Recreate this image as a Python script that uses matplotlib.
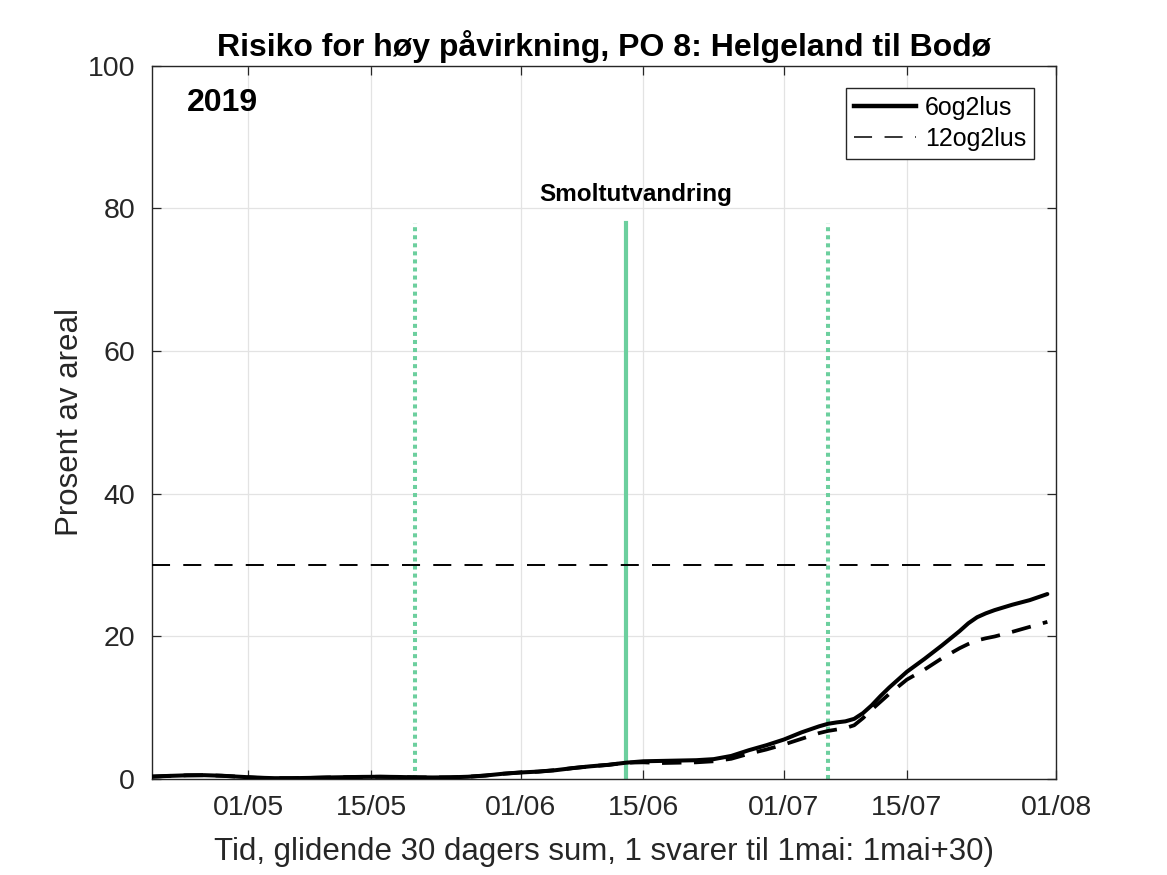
import matplotlib
matplotlib.use("Agg")
import matplotlib.pyplot as plt
from matplotlib.lines import Line2D

plt.rcParams['font.family'] = ['Liberation Sans', 'DejaVu Sans']
plt.rcParams['lines.scale_dashes'] = False

# ---- data (day of year 2019) ----
days = [110, 112, 114, 116, 118, 120, 122, 124, 126, 128, 130, 132, 134, 136, 138,
        140, 142, 144, 146, 148, 150, 152, 154, 156, 158, 160, 162, 164, 166, 168,
        170, 172, 174, 176, 178, 180, 182, 184, 186, 187, 188, 189, 190, 191, 192, 193, 194, 196, 198,
        200, 202, 203, 204, 205, 206, 208, 210, 212]
risk_6og2lus = [0.30, 0.40, 0.48, 0.50, 0.42, 0.28, 0.15, 0.08, 0.08, 0.12, 0.18, 0.22, 0.26, 0.28, 0.25,
                0.20, 0.18, 0.20, 0.28, 0.45, 0.70, 0.88, 1.00, 1.20, 1.50, 1.75, 1.95, 2.25, 2.45, 2.50,
                2.55, 2.60, 2.75, 3.20, 4.00, 4.70, 5.50, 6.50, 7.35, 7.70, 7.90, 8.05, 8.40, 9.20, 10.30, 11.60, 12.80, 15.00, 16.80,
                18.70, 20.70, 21.80, 22.65, 23.20, 23.65, 24.40, 25.05, 25.90]
risk_12og2lus = [0.30, 0.40, 0.48, 0.50, 0.42, 0.28, 0.15, 0.08, 0.08, 0.12, 0.18, 0.22, 0.26, 0.28, 0.25,
                 0.20, 0.18, 0.20, 0.28, 0.45, 0.70, 0.88, 1.00, 1.20, 1.50, 1.75, 1.95, 2.25, 2.30, 2.20,
                 2.25, 2.30, 2.45, 2.80, 3.50, 4.10, 4.80, 5.60, 6.40, 6.70, 6.90, 7.10, 7.50, 8.50, 9.70, 10.80, 11.90, 13.90, 15.30,
                 16.90, 18.30, 18.90, 19.40, 19.70, 19.95, 20.60, 21.30, 22.00]
threshold = 30
smolt_start, smolt_peak, smolt_end = 140, 164, 187
smolt_top = 78
tick_days = [121, 135, 152, 166, 182, 196, 213]
tick_labels = ['01/05', '15/05', '01/06', '15/06', '01/07', '15/07', '01/08']
yticks = [0, 20, 40, 60, 80, 100]

green = '#6CCF9E'
axcol = '#262626'

fig = plt.figure(figsize=(11.67, 8.75), dpi=100)
ax = fig.add_axes([0.13, 0.11, 0.775, 0.815])

ax.grid(True, color='#E3E3E3', linewidth=0.9, zorder=0)
ax.set_axisbelow(True)

ax.plot(days, risk_6og2lus, color='black', linewidth=2.9, solid_capstyle='round',
        solid_joinstyle='round', zorder=3)
ax.plot(days, risk_12og2lus, color='black', linewidth=2.7, linestyle=(0, (14, 9)), zorder=3)
ax.plot([days[0], days[-1]], [threshold, threshold], color='black', linewidth=1.4,
        linestyle=(0, (13, 9.5)), zorder=3)

ax.plot([smolt_start, smolt_start], [0, smolt_top], color=green, linewidth=2.9,
        linestyle=(0, (2.9, 2.9)), dash_capstyle='butt', zorder=2)
ax.plot([smolt_end, smolt_end], [0, smolt_top], color=green, linewidth=2.9,
        linestyle=(0, (2.9, 2.9)), dash_capstyle='butt', zorder=2)
ax.plot([smolt_peak, smolt_peak], [0, smolt_top], color=green, linewidth=3.0, zorder=2)

ax.text(smolt_peak + 1.1, 80.3, 'Smoltutvandring', ha='center', va='bottom',
        fontsize=17.5, fontweight='bold')
ax.text(114, 94.7, '2019', ha='left', va='center', fontsize=23, fontweight='bold')

ax.set_xlim(110, 213)
ax.set_ylim(0, 100)
ax.set_xticks(tick_days)
ax.set_xticklabels(tick_labels)
ax.set_yticks(yticks)
ax.tick_params(direction='in', length=6.5, width=0.9, colors=axcol, labelsize=20.5,
               top=True, right=True, labelcolor=axcol, pad=12)
for s in ax.spines.values():
    s.set_color(axcol)
    s.set_linewidth(1.0)

ax.set_title('Risiko for høy påvirkning, PO 8: Helgeland til Bodø', fontsize=23,
             fontweight='bold', pad=7)
ax.set_xlabel('Tid, glidende 30 dagers sum, 1 svarer til 1mai: 1mai+30)', fontsize=22.5,
              color=axcol, labelpad=11)
ax.set_ylabel('Prosent av areal', fontsize=22.5, color=axcol, labelpad=2)

handles = [Line2D([], [], color='black', linewidth=3.2),
           Line2D([], [], color='black', linewidth=1.1, linestyle=(0, (13, 9)))]
leg = ax.legend(handles, ['6og2lus', '12og2lus'], loc='upper right', fontsize=18,
                frameon=True, fancybox=False, framealpha=1, edgecolor=axcol,
                handlelength=2.5, handletextpad=0.35, borderpad=0.3, labelspacing=0.3,
                borderaxespad=0.9)
leg.get_frame().set_linewidth(1.0)

fig.savefig('out.png', dpi=100)
